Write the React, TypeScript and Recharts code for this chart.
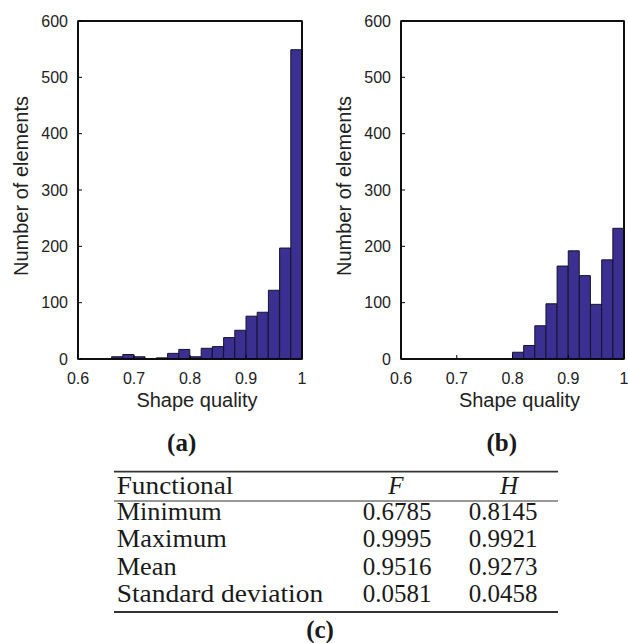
import React from 'react';
import { BarChart, Bar, XAxis, YAxis, ReferenceArea } from 'recharts';

// ---- data ----
const binCenters = [0.61, 0.63, 0.65, 0.67, 0.69, 0.71, 0.73, 0.75, 0.77, 0.79, 0.81, 0.83, 0.85, 0.87, 0.89, 0.91, 0.93, 0.95, 0.97, 0.99];
const countsF = [0, 0, 0, 4, 8, 4, 0, 2, 10, 17, 4, 19, 22, 38, 51, 76, 83, 122, 197, 549];
const countsH = [0, 0, 0, 0, 0, 0, 0, 0, 0, 0, 12, 24, 59, 98, 165, 192, 148, 97, 176, 232];
const xTicks = [0.6, 0.7, 0.8, 0.9, 1];
const yTicks = [0, 100, 200, 300, 400, 500, 600];
const xDomain = [0.6, 1];
const yDomain = [0, 600];
const xLabel = 'Shape quality';
const yLabel = 'Number of elements';
const panelLabels = ['(a)', '(b)', '(c)'];

const tableHeader = ['Functional', 'F', 'H'];
const rowLabels = ['Minimum', 'Maximum', 'Mean', 'Standard deviation'];
const valuesF = ['0.6785', '0.9995', '0.9516', '0.0581'];
const valuesH = ['0.8145', '0.9921', '0.9273', '0.0458'];

const SANS = 'Liberation Sans, Arial, Helvetica, sans-serif';
const SERIF = 'Liberation Serif, Times New Roman, serif';
const LINE = 'black';

function HistA({ counts }: { counts: number[] }) {
  const data = binCenters.map((c, i) => ({ bin: c.toFixed(2), c, n: counts[i] }));
  const tickStyle = { fill: '#222', fontSize: 16, fontFamily: SANS };
  const axisLine = { stroke: LINE, strokeWidth: 1.5 };
  return (
    <BarChart width={310} height={420} data={data} margin={{ top: 20, right: 7, bottom: 1, left: 18 }} barCategoryGap={0} barGap={0}>
      <XAxis xAxisId="cat" dataKey="bin" type="category" hide height={0} />
      <XAxis xAxisId="num" dataKey="c" type="number" domain={xDomain} allowDataOverflow ticks={xTicks} interval={0} height={60} tickSize={-4} tickMargin={18} tickLine={{ stroke: LINE }} axisLine={axisLine} tick={tickStyle}
        label={{ value: xLabel, position: 'insideBottom', offset: 12, dx: 7, style: { fill: '#222', fontSize: 20, fontFamily: SANS } }} />
      <XAxis xAxisId="top" dataKey="c" type="number" domain={xDomain} allowDataOverflow ticks={xTicks} orientation="top" height={1} tick={false} tickSize={-4} axisLine={axisLine} tickLine={{ stroke: LINE }} />
      <YAxis yAxisId="y" type="number" domain={yDomain} allowDataOverflow ticks={yTicks} interval={0} width={60} tickSize={-4} tickMargin={14} tickLine={{ stroke: LINE }} axisLine={axisLine} tick={tickStyle}
        label={{ value: yLabel, angle: -90, position: 'center', dx: -27.5, dy: -4, style: { fill: '#222', fontSize: 20, fontFamily: SANS } }} />
      <YAxis yAxisId="right" type="number" domain={yDomain} allowDataOverflow ticks={yTicks} orientation="right" width={1} tick={false} tickSize={-4} axisLine={axisLine} tickLine={{ stroke: LINE }} />
      <Bar xAxisId="cat" yAxisId="y" dataKey="n" fill="#3b2f91" stroke="#15142a" strokeWidth={1} isAnimationActive={false} />
      <ReferenceArea xAxisId="num" yAxisId="y" x1={xDomain[0]} x2={xDomain[1]} y1={yDomain[0]} y2={yDomain[1]} fill="none" stroke={LINE} strokeWidth={1.5} ifOverflow="visible" />
    </BarChart>
  );
}

function HistB({ counts }: { counts: number[] }) {
  const data = binCenters.map((c, i) => ({ bin: c.toFixed(2), c, n: counts[i] }));
  const tickStyle = { fill: '#222', fontSize: 16, fontFamily: SANS };
  const axisLine = { stroke: LINE, strokeWidth: 1.5 };
  return (
    <BarChart width={305} height={420} data={data} margin={{ top: 20, right: 3, bottom: 1, left: 18 }} barCategoryGap={0} barGap={0}>
      <XAxis xAxisId="cat" dataKey="bin" type="category" hide height={0} />
      <XAxis xAxisId="num" dataKey="c" type="number" domain={xDomain} allowDataOverflow ticks={xTicks} interval={0} height={60} tickSize={-4} tickMargin={18} tickLine={{ stroke: LINE }} axisLine={axisLine} tick={tickStyle}
        label={{ value: xLabel, position: 'insideBottom', offset: 12, dx: 7, style: { fill: '#222', fontSize: 20, fontFamily: SANS } }} />
      <XAxis xAxisId="top" dataKey="c" type="number" domain={xDomain} allowDataOverflow ticks={xTicks} orientation="top" height={1} tick={false} tickSize={-4} axisLine={axisLine} tickLine={{ stroke: LINE }} />
      <YAxis yAxisId="y" type="number" domain={yDomain} allowDataOverflow ticks={yTicks} interval={0} width={60} tickSize={-4} tickMargin={14} tickLine={{ stroke: LINE }} axisLine={axisLine} tick={tickStyle}
        label={{ value: yLabel, angle: -90, position: 'center', dx: -27.5, dy: -4, style: { fill: '#222', fontSize: 20, fontFamily: SANS } }} />
      <YAxis yAxisId="right" type="number" domain={yDomain} allowDataOverflow ticks={yTicks} orientation="right" width={1} tick={false} tickSize={-4} axisLine={axisLine} tickLine={{ stroke: LINE }} />
      <Bar xAxisId="cat" yAxisId="y" dataKey="n" fill="#3b2f91" stroke="#15142a" strokeWidth={1} isAnimationActive={false} />
      <ReferenceArea xAxisId="num" yAxisId="y" x1={xDomain[0]} x2={xDomain[1]} y1={yDomain[0]} y2={yDomain[1]} fill="none" stroke={LINE} strokeWidth={1.5} ifOverflow="visible" />
    </BarChart>
  );
}

function StatsTable() {
  const top = 420;
  const left = 114;
  const right = 558;
  const labelX = 116.7;
  const fX = 397;
  const hX = 503;
  const rowY = [520, 547, 574.5, 601.5];
  const labelWidths = [105, 110, 60, 206.5];
  const txt = { fontFamily: SERIF, fontSize: 25, fill: '#1a1a1a' } as React.CSSProperties;
  return (
    <svg width={628} height={223} style={{ position: 'absolute', left: 0, top: top }}>
      <text x={181.7} y={451 - top} textAnchor="middle" style={{ ...txt, fontWeight: 'bold' }}>{panelLabels[0]}</text>
      <text x={501.7} y={451 - top} textAnchor="middle" style={{ ...txt, fontWeight: 'bold' }}>{panelLabels[1]}</text>
      <line x1={left} x2={right} y1={471.7 - top} y2={471.7 - top} stroke="#333" strokeWidth={1.8} />
      <text x={labelX} y={494 - top} style={txt} textLength={116.7} lengthAdjust="spacingAndGlyphs">{tableHeader[0]}</text>
      <text x={396} y={494 - top} textAnchor="middle" style={{ ...txt, fontStyle: 'italic' }}>{tableHeader[1]}</text>
      <text x={509} y={494 - top} textAnchor="middle" style={{ ...txt, fontStyle: 'italic' }}>{tableHeader[2]}</text>
      <line x1={left} x2={right} y1={501 - top} y2={501 - top} stroke="#333" strokeWidth={1} />
      {rowLabels.map((r, i) => (
        <g key={r}>
          <text x={labelX} y={rowY[i] - top} style={txt} textLength={labelWidths[i]} lengthAdjust="spacingAndGlyphs">{r}</text>
          <text x={fX} y={rowY[i] - top} textAnchor="middle" style={txt}>{valuesF[i]}</text>
          <text x={hX} y={rowY[i] - top} textAnchor="middle" style={txt}>{valuesH[i]}</text>
        </g>
      ))}
      <line x1={left} x2={right} y1={612 - top} y2={612 - top} stroke="#333" strokeWidth={1.8} />
      <text x={320} y={638 - top} textAnchor="middle" style={{ ...txt, fontWeight: 'bold' }}>{panelLabels[2]}</text>
    </svg>
  );
}

export default function App() {
  return (
    <div style={{ position: 'absolute', left: 0, top: 0, width: 628, height: 643, overflow: 'hidden', background: '#fff' }}>
      <div style={{ position: 'absolute', left: 0, top: 0 }}>
        <HistA counts={countsF} />
      </div>
      <div style={{ position: 'absolute', left: 323, top: 0 }}>
        <HistB counts={countsH} />
      </div>
      <StatsTable />
    </div>
  );
}
